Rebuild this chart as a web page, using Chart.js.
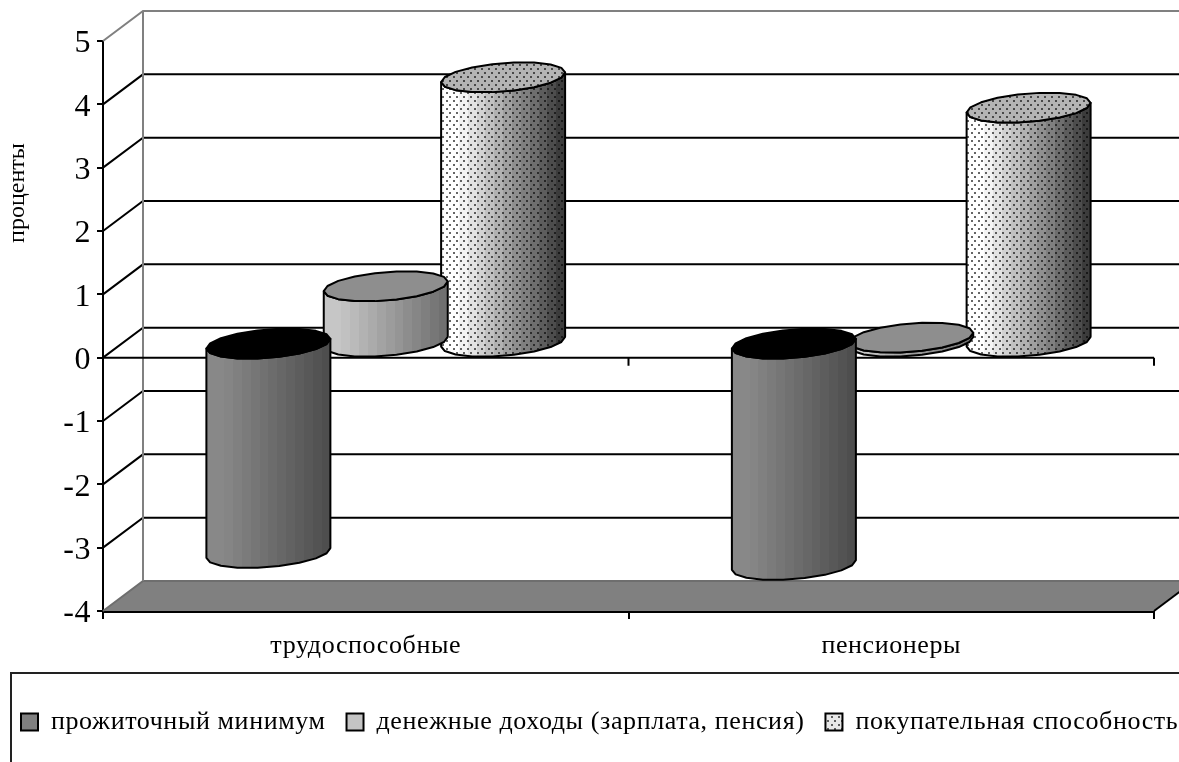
<!DOCTYPE html>
<html>
<head>
<meta charset="utf-8">
<title>Chart</title>
<script src="https://cdn.jsdelivr.net/npm/chart.js@4"></script>
<style>
  html, body { margin: 0; padding: 0; background: #fff; overflow: hidden; }
  /* the picture is cut off on the right, the canvas runs past it */
  #wrap { width: 1179px; height: 762px; overflow: hidden; }
  #chart { display: block; }
</style>
</head>
<body>
<div id="wrap"><canvas id="chart" width="1240" height="762"></canvas></div>
<script>
var categories = ["трудоспособные", "пенсионеры"];
var seriesNames = ["прожиточный минимум", "денежные доходы (зарплата, пенсия)", "покупательная способность"];
var minimumValues = [-3.32, -3.51];
var incomeValues = [0.89, 0.08];
var powerValues = [4.19, 3.71];
var yTicks = [-4, -3, -2, -1, 0, 1, 2, 3, 4, 5];
var yTitle = "проценты";

var FONT = "'Liberation Serif', serif";
var DEPTH_X = 40, DEPTH_Y = 30;

// dots for the third series
function dotPattern() {
    var c = document.createElement("canvas");
    c.width = 7; c.height = 8;
    var g = c.getContext("2d");
    g.fillStyle = "rgba(0,0,0,0.6)";
    g.fillRect(1, 0, 2, 2);
    g.fillRect(5, 4, 2, 2);
    return c;
}
var dots = dotPattern();
var ctxMain = document.getElementById("chart").getContext("2d");

function swatchPattern() {
    var c = document.createElement("canvas");
    c.width = 7; c.height = 8;
    var g = c.getContext("2d");
    g.fillStyle = "#e8e8e8";
    g.fillRect(0, 0, 7, 8);
    g.drawImage(dots, 0, 0);
    return ctxMain.createPattern(c, "repeat");
}

var looks = [
    { from: [136, 136, 136], to: [78, 78, 78], top: "#000000", dotted: false },
    { from: [198, 198, 198], to: [112, 112, 112], top: "#8e8e8e", dotted: false },
    { from: [255, 255, 255], to: [60, 60, 60], top: "#b4b4b4", dotted: true }
];

// point on the rim of a cylinder, circle seen in the oblique projection
function rim(cx, cy, rx, t) {
    return [cx + rx * Math.cos(t) + DEPTH_X / 2 * Math.sin(t), cy - DEPTH_Y / 2 * Math.sin(t)];
}

function drawCylinder(ctx, bar, look) {
    var rx = bar.width / 2;
    var cx = bar.x + DEPTH_X / 2;
    var topY = Math.min(bar.y, bar.base) - DEPTH_Y / 2;
    var botY = Math.max(bar.y, bar.base) - DEPTH_Y / 2;
    var tR = Math.atan2(DEPTH_X / 2, rx);
    var half = Math.sqrt(rx * rx + DEPTH_X * DEPTH_X / 4);
    var n = 9, k, p;

    ctx.save();
    ctx.lineJoin = "round";
    ctx.lineWidth = 2;
    ctx.strokeStyle = "#000";

    // side
    ctx.beginPath();
    for (k = 0; k <= n; k++) {
        p = rim(cx, botY, rx, tR - Math.PI * k / n);
        if (k === 0) ctx.moveTo(p[0], p[1]); else ctx.lineTo(p[0], p[1]);
    }
    for (k = n; k >= 0; k--) {
        p = rim(cx, topY, rx, tR - Math.PI * k / n);
        ctx.lineTo(p[0], p[1]);
    }
    ctx.closePath();
    var grad = ctx.createLinearGradient(cx - half, 0, cx + half, 0);
    var steps = 14;
    for (k = 0; k < steps; k++) {
        var f = k / (steps - 1);
        var shade = f < 0.1 ? 0 : (f - 0.1) / 0.9;
        var col = "rgb(" + [0, 1, 2].map(function (i) {
            return Math.round(look.from[i] + (look.to[i] - look.from[i]) * shade);
        }).join(",") + ")";
        grad.addColorStop(k / steps, col);
        grad.addColorStop((k + 1) / steps, col);
    }
    ctx.fillStyle = grad;
    ctx.fill();
    if (look.dotted) {
        ctx.fillStyle = ctx.createPattern(dots, "repeat");
        ctx.fill();
    }
    ctx.stroke();

    // top
    ctx.beginPath();
    for (k = 0; k < 2 * n; k++) {
        p = rim(cx, topY, rx, tR - Math.PI * k / n);
        if (k === 0) ctx.moveTo(p[0], p[1]); else ctx.lineTo(p[0], p[1]);
    }
    ctx.closePath();
    ctx.fillStyle = look.top;
    ctx.fill();
    if (look.dotted) {
        ctx.fillStyle = ctx.createPattern(dots, "repeat");
        ctx.fill();
    }
    ctx.stroke();
    ctx.restore();
}

// walls, floor, gridlines of the 3D box, cylinders in place of the bars
var box3d = {
    id: "box3d",
    beforeUpdate: function (chart) {
        // the reference text runs wide; set here because a canvas resize clears it
        chart.ctx.letterSpacing = "0.6px";
    },
    beforeDatasetsDraw: function (chart) {
        var ctx = chart.ctx, y = chart.scales.y;
        var left = chart.chartArea.left, right = chart.chartArea.right;
        var bottom = y.getPixelForValue(yTicks[0]), top = y.getPixelForValue(yTicks[yTicks.length - 1]);
        var zero = y.getPixelForValue(0);
        ctx.save();

        // floor
        ctx.beginPath();
        ctx.moveTo(left, bottom);
        ctx.lineTo(left + DEPTH_X, bottom - DEPTH_Y);
        ctx.lineTo(right + DEPTH_X, bottom - DEPTH_Y);
        ctx.lineTo(right, bottom);
        ctx.closePath();
        ctx.fillStyle = "#808080";
        ctx.fill();

        // gridlines on the back wall and side wall
        ctx.lineWidth = 2;
        yTicks.forEach(function (v) {
            var py = y.getPixelForValue(v);
            var edge = v === yTicks[0] || v === yTicks[yTicks.length - 1];
            ctx.strokeStyle = edge ? "#808080" : "#000";
            if (v === yTicks[0]) ctx.strokeStyle = "#6e6e6e";
            ctx.beginPath();
            ctx.moveTo(left, py);
            ctx.lineTo(left + DEPTH_X, py - DEPTH_Y);
            ctx.lineTo(right + DEPTH_X, py - DEPTH_Y);
            ctx.stroke();
        });
        ctx.strokeStyle = "#808080";
        ctx.beginPath();
        ctx.moveTo(left + DEPTH_X, top - DEPTH_Y);
        ctx.lineTo(left + DEPTH_X, bottom - DEPTH_Y);
        ctx.stroke();

        // floor right edge
        ctx.strokeStyle = "#000";
        ctx.beginPath();
        ctx.moveTo(right, bottom);
        ctx.lineTo(right + DEPTH_X, bottom - DEPTH_Y);
        ctx.stroke();

        // front line at zero with its ticks
        ctx.beginPath();
        ctx.moveTo(left, zero);
        ctx.lineTo(right, zero);
        for (var i = 1; i <= categories.length; i++) {
            var px = left + (right - left) * i / categories.length;
            ctx.moveTo(px, zero);
            ctx.lineTo(px, zero + 8);
        }
        ctx.stroke();
        ctx.restore();
    },
    beforeDatasetDraw: function (chart, args) {
        var ctx = chart.ctx;
        chart.getDatasetMeta(args.index).data.forEach(function (bar) {
            drawCylinder(ctx, bar, looks[args.index]);
        });
        return false;
    },
    afterDraw: function (chart) {
        var ctx = chart.ctx;
        ctx.save();
        // legend frame, runs off the picture
        ctx.strokeStyle = "#222";
        ctx.lineWidth = 2;
        ctx.strokeRect(11, chart.legend.top - 15, 1400, 300);
        // axis title
        ctx.fillStyle = "#000";
        ctx.letterSpacing = "0px";
        ctx.font = "24px " + FONT;
        ctx.textAlign = "center";
        ctx.textBaseline = "middle";
        ctx.translate(18, 193);
        ctx.rotate(-Math.PI / 2);
        ctx.fillText(yTitle, 0, 0);
        ctx.restore();
    }
};

Chart.defaults.font.family = FONT;

new Chart(ctxMain, {
    type: "bar",
    data: {
        labels: categories,
        datasets: [
            { label: seriesNames[0], data: minimumValues, backgroundColor: "#808080", borderColor: "#000", borderWidth: 2 },
            { label: seriesNames[1], data: incomeValues, backgroundColor: "#c4c4c4", borderColor: "#000", borderWidth: 2 },
            { label: seriesNames[2], data: powerValues, backgroundColor: swatchPattern(), borderColor: "#000", borderWidth: 2 }
        ]
    },
    plugins: [box3d],
    options: {
        responsive: false,
        animation: false,
        layout: { padding: { top: 41, right: 0, bottom: 17, left: 0 } },
        categoryPercentage: 0.67,
        barPercentage: 1,
        scales: {
            x: {
                grid: { drawOnChartArea: false, drawTicks: true, tickLength: 8, color: "#000", lineWidth: 2 },
                border: { display: true, color: "#000", width: 3 },
                ticks: { color: "#000", font: { size: 26 }, padding: 12, maxRotation: 0 },
                afterFit: function (scale) { scale.height = 77; }
            },
            y: {
                min: yTicks[0],
                max: yTicks[yTicks.length - 1],
                grid: { drawOnChartArea: false, drawTicks: true, tickLength: 6, color: "#000", lineWidth: 2 },
                border: { display: true, color: "#000", width: 2 },
                ticks: { stepSize: 1, color: "#000", font: { size: 32 }, padding: 6, labelOffset: 3 },
                afterFit: function (scale) { scale.width = 103; }
            },
            // empty axis, only keeps the plot clear of the cut-off part of the canvas
            y2: {
                position: "right",
                grid: { display: false },
                border: { display: false },
                ticks: { display: false },
                afterFit: function (scale) { scale.width = 86; }
            }
        },
        plugins: {
            title: { display: false },
            tooltip: { enabled: false },
            legend: {
                position: "bottom",
                align: "start",
                labels: { color: "#000", font: { size: 26 }, boxWidth: 17, boxHeight: 17, padding: 21 }
            }
        }
    }
});
</script>
</body>
</html>
